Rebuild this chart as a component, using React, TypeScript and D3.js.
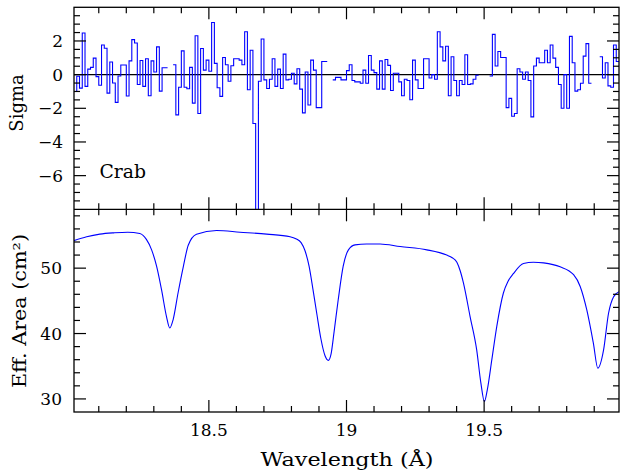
import React from 'react';
import * as d3 from 'd3';

// ---- data ----
const binStart = 18.01; // first bin edge (Å)
const binWidth = 0.01; // bin width (Å)
const sigmaValues: (number | null)[] = [
  -1.0, -0.1, -0.8, 2.47, -0.7, 0.33, 0.43, 0.98, -0.12, -0.63,
  1.76, 1.57, -1.1, 0.75, -0.5, -1.65, -0.08, 0.57, 0.57, -1.27,
  0.82, 2.08, 1.88, -0.59, 0.84, -0.7, 0.94, -1.25, 0.82, 0.16,
  1.65, -0.98, 0.41, 0.41, null, null, 0.59, -2.39, -0.75, 1.41,
  -0.75, -0.84, 0.43, -1.69, 2.31, -2.31, 1.55, 0.27, 0.86, 0.2,
  3.1, 0.67, -0.78, -1.29, 1.02, 0.59, -0.39, 0.53, 0.94, 0.94,
  0.86, 0.59, 2.55, -0.9, 1.45, -2.9, -9, -0.39, 2.12, -0.31,
  -0.82, -0.27, 0.94, -0.7, 0.33, -0.82, 1.22, -0.31, -0.27, 0.08,
  -0.55, 0.35, -0.86, -2.27, 0.16, -1.8, 0.86, 0.27, -1.96, -1.96,
  0.78, 0.78, null, null, -0.31, -0.16, -0.16, -0.31, -0.31, 0.24,
  0.59, -0.35, -0.43, -0.43, -0.51, 0.27, -0.51, 1.14, 0.27, 0.12,
  -0.86, 0.82, -0.86, 0.9, 0.55, -0.94, 0.08, 0.08, -0.43, -1.25,
  -0.27, -0.35, -1.49, 0.86, -0.31, -0.82, -0.82, 0.94, 0.94, -0.2,
  0.0, -0.27, 2.55, 1.65, 0.82, 1.69, -1.25, 1.06, -0.35, -1.25,
  -0.35, -0.59, 1.18, -0.59, -0.55, -0.27, -0.04, null, null, null,
  null, -0.08, 2.39, 0.51, 1.37, 1.02, 1.02, -1.96, -1.41, -2.47,
  -2.31, 0.35, 0.16, -0.27, 0.16, -0.35, -2.51, 0.51, 0.98, 0.71,
  0.71, 1.45, 0.71, 1.76, 0.98, 0.43, -0.59, -2.0, 0.0, -2.0,
  2.27, 0.71, -0.98, -0.9, -0.51, 1.1, 1.84, -0.51, null, null,
  null, 1.06, -0.2, 0.71, -0.67, -0.75, 1.76, 0.78,
];

const effWave = [
  18.009, 18.056, 18.104, 18.155, 18.205, 18.249, 18.273, 18.292, 18.31, 18.328,
  18.346, 18.358, 18.37, 18.388, 18.407, 18.425, 18.455, 18.528, 18.613, 18.71,
  18.795, 18.816, 18.835, 18.849, 18.864, 18.878, 18.893, 18.907, 18.922, 18.934,
  18.944, 18.955, 18.97, 18.988, 19.007, 19.031, 19.073, 19.122, 19.195, 19.292,
  19.364, 19.384, 19.401, 19.413, 19.425, 19.449, 19.473, 19.488, 19.501, 19.512,
  19.528, 19.546, 19.57, 19.587, 19.607, 19.643, 19.679, 19.716, 19.776, 19.825,
  19.849, 19.873, 19.897, 19.913, 19.934, 19.952, 19.97, 19.99,
];
const effArea = [
  54.2, 54.8, 55.2, 55.4, 55.5, 55.3, 54.4, 52.8, 50.3, 46.7,
  42.6, 40.85, 42.1, 46.2, 50.2, 53.5, 55.2, 55.75, 55.5, 55.2,
  54.8, 54.5, 53.9, 52.7, 50.3, 46.8, 42.8, 39.2, 36.6, 35.9,
  36.9, 40.3, 45.2, 50.3, 52.8, 53.56, 53.7, 53.7, 53.3, 52.8,
  52.0, 51.6, 50.9, 49.6, 47.7, 42.6, 37.5, 32.5, 29.6, 31.5,
  36.0, 41.1, 46.2, 48.0, 49.2, 50.7, 50.9, 50.8, 50.2, 49.0,
  47.2, 43.6, 38.5, 34.7, 37.5, 43.1, 45.6, 46.4,
];

const xMajor = [18.5, 19, 19.5];
const xLabels = ['18.5', '19', '19.5'];
const sigmaMajor = [-6, -4, -2, 0, 2];
const sigmaLabels = ['\u22126', '\u22124', '\u22122', '0', '2'];
const areaMajor = [30, 40, 50];
const areaLabels = ['30', '40', '50'];

const FONT = '"DejaVu Serif", serif';

export default function App() {
  const W = 620, H = 475;
  const L = 74, R = 619, T = 7.3, M = 209.3, B = 412;
  const x = d3.scaleLinear().domain([18.01, 19.99]).range([L, R]);
  const yS = d3.scaleLinear().domain([-8, 4]).range([M, T]);
  const yA = d3.scaleLinear().domain([28, 59]).range([B, M]);

  // histogram runs
  const runs: [number, number][][] = [];
  let cur: [number, number][] | null = null;
  sigmaValues.forEach((v, i) => {
    const lo = binStart + i * binWidth;
    const hi = lo + binWidth;
    if (v === null) {
      cur = null;
      return;
    }
    if (!cur) {
      cur = [];
      runs.push(cur);
    }
    cur.push([lo, v]);
    const next = sigmaValues[i + 1];
    if (next === null || next === undefined) cur.push([hi, v]);
  });
  const stepLine = d3
    .line<[number, number]>()
    .x((d) => x(d[0]))
    .y((d) => yS(d[1]))
    .curve(d3.curveStepAfter);

  const areaLine = d3
    .line<number>()
    .x((_, i) => x(effWave[i]))
    .y((d) => yA(d))
    .curve(d3.curveMonotoneX);

  const minorLen = 6, majorLen = 12;
  const xMinor = x.ticks(20);
  const isMajorX = (t: number) => xMajor.some((m) => Math.abs(m - t) < 1e-6);
  const ySMinor = yS.ticks(24).filter((t) => t > -8 && t < 4);
  const yAMinor = yA.ticks(16).filter((t) => t > 28 && t < 59);
  const isIn = (arr: number[], t: number) => arr.some((m) => Math.abs(m - t) < 1e-6);

  const tickEls: React.ReactNode[] = [];
  const sw = 1.2;
  xMinor.forEach((t, i) => {
    const len = isMajorX(t) ? majorLen : minorLen;
    const px = x(t);
    [T, M].forEach((yy, j) =>
      tickEls.push(<line key={`xt${i}-${j}`} x1={px} x2={px} y1={yy} y2={yy + len} stroke="#000" strokeWidth={sw} />)
    );
    [M, B].forEach((yy, j) =>
      tickEls.push(<line key={`xb${i}-${j}`} x1={px} x2={px} y1={yy} y2={yy - len} stroke="#000" strokeWidth={sw} />)
    );
  });
  ySMinor.forEach((t, i) => {
    const len = isIn(sigmaMajor, t) ? majorLen : minorLen;
    const py = yS(t);
    tickEls.push(<line key={`ys${i}l`} x1={L} x2={L + len} y1={py} y2={py} stroke="#000" strokeWidth={sw} />);
    tickEls.push(<line key={`ys${i}r`} x1={R} x2={R - len} y1={py} y2={py} stroke="#000" strokeWidth={sw} />);
  });
  yAMinor.forEach((t, i) => {
    const len = isIn(areaMajor, t) ? majorLen : minorLen;
    const py = yA(t);
    tickEls.push(<line key={`ya${i}l`} x1={L} x2={L + len} y1={py} y2={py} stroke="#000" strokeWidth={sw} />);
    tickEls.push(<line key={`ya${i}r`} x1={R} x2={R - len} y1={py} y2={py} stroke="#000" strokeWidth={sw} />);
  });

  return (
    <div style={{ position: 'fixed', left: 0, top: 0 }}>
      <svg width={W} height={H} viewBox={`0 0 ${W} ${H}`} style={{ display: 'block', background: '#fff' }}>
        <defs>
          <clipPath id="clipTop">
            <rect x={L} y={T} width={R - L} height={M - T} />
          </clipPath>
          <clipPath id="clipBot">
            <rect x={L} y={M} width={R - L} height={B - M} />
          </clipPath>
        </defs>
        <rect x={0} y={0} width={W} height={H} fill="#fff" />

        {/* top panel */}
        <line x1={L} x2={R} y1={yS(0)} y2={yS(0)} stroke="#000" strokeWidth={1.3} />
        <g clipPath="url(#clipTop)">
          {runs.map((r, i) => (
            <path key={i} d={stepLine(r) || ''} fill="none" stroke="#0000ff" strokeWidth={1.1} />
          ))}
        </g>

        {/* bottom panel */}
        <g clipPath="url(#clipBot)">
          <path d={areaLine(effArea) || ''} fill="none" stroke="#0000ff" strokeWidth={1.1} />
        </g>

        {/* frame */}
        <rect x={L} y={T} width={R - L} height={B - T} fill="none" stroke="#000" strokeWidth={1.3} />
        <line x1={L} x2={R} y1={M} y2={M} stroke="#000" strokeWidth={1.3} />
        {tickEls}

        {/* tick labels */}
        <g fontFamily={FONT} fontSize={17} fill="#000">
          {xMajor.map((t, i) => (
            <text key={`xl${i}`} x={x(t)} y={436} textAnchor="middle">{xLabels[i]}</text>
          ))}
          {sigmaMajor.map((t, i) => (
            <text key={`sl${i}`} x={63} y={yS(t)} dy="0.36em" textAnchor="end">{sigmaLabels[i]}</text>
          ))}
          {areaMajor.map((t, i) => (
            <text key={`al${i}`} x={62} y={yA(t)} dy="0.36em" textAnchor="end">{areaLabels[i]}</text>
          ))}
        </g>

        {/* axis titles */}
        <text x={347} y={466} textAnchor="middle" fontFamily={FONT} fontSize={19} textLength={173} lengthAdjust="spacingAndGlyphs">
          Wavelength (Å)
        </text>
        <text transform="translate(23,103) rotate(-90)" textAnchor="middle" fontFamily={FONT} fontSize={18}>
          Sigma
        </text>
        <text transform="translate(26,311) rotate(-90)" textAnchor="middle" fontFamily={FONT} fontSize={18} textLength={154} lengthAdjust="spacingAndGlyphs">
          Eff. Area (cm²)
        </text>
        <text x={99.5} y={178.3} fontFamily={FONT} fontSize={18} textLength={46.5} lengthAdjust="spacingAndGlyphs">
          Crab
        </text>
      </svg>
    </div>
  );
}
